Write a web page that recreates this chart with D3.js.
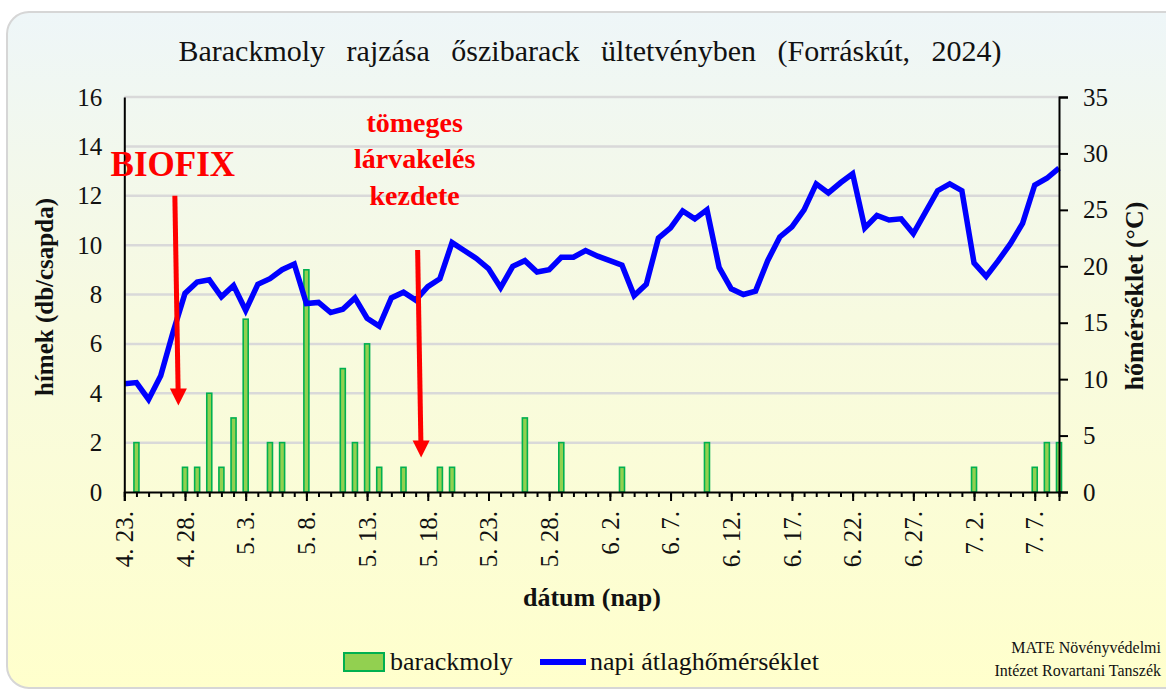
<!DOCTYPE html>
<html><head><meta charset="utf-8">
<script src="https://cdn.jsdelivr.net/npm/d3@7"></script>
<style>html,body{margin:0;padding:0;background:#fff;}svg{display:block;}</style>
</head><body>
<svg id="c" width="1166" height="693"></svg>
<script>
// ---------- data ----------
const days = ["4.23","4.24","4.25","4.26","4.27","4.28","4.29","4.30","5.1","5.2","5.3","5.4","5.5","5.6","5.7","5.8","5.9","5.10","5.11","5.12","5.13","5.14","5.15","5.16","5.17","5.18","5.19","5.20","5.21","5.22","5.23","5.24","5.25","5.26","5.27","5.28","5.29","5.30","5.31","6.1","6.2","6.3","6.4","6.5","6.6","6.7","6.8","6.9","6.10","6.11","6.12","6.13","6.14","6.15","6.16","6.17","6.18","6.19","6.20","6.21","6.22","6.23","6.24","6.25","6.26","6.27","6.28","6.29","6.30","7.1","7.2","7.3","7.4","7.5","7.6","7.7","7.8","7.9"];
const moths = [0,2,0,0,0,1,1,4,1,3,7,0,2,2,0,9,0,0,5,2,6,1,0,1,0,0,1,1,0,0,0,0,0,3,0,0,2,0,0,0,0,1,0,0,0,0,0,0,2,0,0,0,0,0,0,0,0,0,0,0,0,0,0,0,0,0,0,0,0,0,1,0,0,0,0,1,2,2];
const temps = [9.6,9.7,8.2,10.3,14.1,17.6,18.6,18.8,17.3,18.3,16.1,18.4,18.9,19.7,20.2,16.7,16.8,15.9,16.2,17.2,15.4,14.7,17.2,17.7,17.0,18.2,18.9,22.1,21.4,20.7,19.8,18.1,20.0,20.5,19.5,19.7,20.8,20.8,21.4,20.9,20.5,20.1,17.4,18.4,22.5,23.4,24.9,24.2,25.0,19.9,18.0,17.5,17.8,20.5,22.6,23.5,25.0,27.3,26.5,27.4,28.2,23.4,24.5,24.1,24.2,22.9,24.8,26.7,27.3,26.7,20.3,19.1,20.5,22.0,23.8,27.2,27.8,28.7];
const tickDays = ["4.23","4.28","5.3","5.8","5.13","5.18","5.23","5.28","6.2","6.7","6.12","6.17","6.22","6.27","7.2","7.7"];
const leftTicks = [0,2,4,6,8,10,12,14,16];
const rightTicks = [0,5,10,15,20,25,30,35];
const title = "Barackmoly rajzása őszibarack ültetvényben (Forráskút, 2024)";
const arrows = [ {day:"4.27", from:12, to:3.5}, {day:"5.17", from:9.8, to:1.4} ];
const notes = [ {day:"4.27", y:12.8, lines:["BIOFIX"], big:true},
                {day:"5.17", y:14.6, lines:["tömeges","lárvakelés","kezdete"], big:false} ];

// ---------- layout ----------
const svg = d3.select("#c");
const FONT = "'Liberation Serif','Times New Roman',serif";
const m = {l:124.3, r:1059, t:97, b:492};

const defs = svg.append("defs");
const g = defs.append("linearGradient").attr("id","bg").attr("x1",0).attr("y1",0).attr("x2",0).attr("y2",1);
g.append("stop").attr("offset","0%").attr("stop-color","#eef6f8");
g.append("stop").attr("offset","45%").attr("stop-color","#f7fae0");
g.append("stop").attr("offset","100%").attr("stop-color","#ffffcc");

svg.append("rect").attr("x",7).attr("y",12).attr("width",1200).attr("height",676).attr("rx",22)
  .attr("fill","url(#bg)").attr("stroke","#d6d6d6").attr("stroke-width",2);

const x = d3.scalePoint().domain(days).range([m.l, m.r]);
const yL = d3.scaleLinear().domain([0,16]).range([m.b, m.t]);
const yR = d3.scaleLinear().domain([0,35]).range([m.b, m.t]);

// gridlines
svg.append("g").selectAll("line").data(leftTicks.filter(d=>d>0)).join("line")
  .attr("x1",m.l).attr("x2",m.r).attr("y1",d=>yL(d)).attr("y2",d=>yL(d))
  .attr("stroke","#d9d9d9").attr("stroke-width",2.5);

// title
svg.append("text").attr("x",590).attr("y",61).attr("text-anchor","middle")
  .attr("font-family",FONT).attr("font-size",30).attr("word-spacing",14).attr("fill","#111").text(title);

// bars
const bw = 5;
svg.append("g").selectAll("rect").data(days.map((d,i)=>({d,v:moths[i]})).filter(o=>o.v>0)).join("rect")
  .attr("x",o=>x(o.d)-bw/2).attr("width",bw).attr("y",o=>yL(o.v)).attr("height",o=>yL(0)-yL(o.v))
  .attr("fill","#92d050").attr("stroke","#00b050").attr("stroke-width",1.6);

// temperature line
svg.append("path").datum(temps)
  .attr("d", d3.line().x((v,i)=>x(days[i])).y(v=>yR(v)))
  .attr("fill","none").attr("stroke","#0000ff").attr("stroke-width",5.5).attr("stroke-linejoin","miter");

// axes
const axL = svg.append("g").attr("transform",`translate(${m.l},0)`)
  .call(d3.axisLeft(yL).tickValues(leftTicks).tickSize(0).tickPadding(22));
const axR = svg.append("g").attr("transform",`translate(${m.r},0)`)
  .call(d3.axisRight(yR).tickValues(rightTicks).tickSize(9).tickPadding(15));
const axB = svg.append("g").attr("transform",`translate(0,${m.b})`)
  .call(d3.axisBottom(x).tickValues(days).tickSize(5).tickFormat(""));
const axB2 = svg.append("g").attr("transform",`translate(0,${m.b})`)
  .call(d3.axisBottom(x).tickValues(tickDays).tickSize(9).tickPadding(10)
     .tickFormat(d=>{const p=d.split(".");return p[0]+". "+p[1]+".";}));
[axL,axR,axB,axB2].forEach(a=>{
  a.attr("font-family",FONT);
  a.selectAll(".domain").attr("stroke","#000").attr("stroke-width",2);
  a.selectAll(".tick line").attr("stroke","#000").attr("stroke-width",2);
  a.selectAll("text").attr("font-family",FONT).attr("font-size",25).attr("fill","#111");
});
axB.select(".domain").remove();
axB2.selectAll(".tick text").attr("transform","rotate(-90)").attr("text-anchor","end")
  .attr("x",-19).attr("y",0).attr("dy","0.33em");

// axis titles
svg.append("text").attr("transform","translate(53,297) rotate(-90)").attr("text-anchor","middle")
  .attr("font-family",FONT).attr("font-weight","bold").attr("font-size",25).attr("fill","#111").text("hímek (db/csapda)");
svg.append("text").attr("transform","translate(1143,296) rotate(-90)").attr("text-anchor","middle")
  .attr("font-family",FONT).attr("font-weight","bold").attr("font-size",26).attr("fill","#111").text("hőmérséklet (°C)");
svg.append("text").attr("x",592).attr("y",606).attr("text-anchor","middle")
  .attr("font-family",FONT).attr("font-weight","bold").attr("font-size",26).attr("fill","#111").text("dátum (nap)");

// annotations
arrows.forEach(a=>{
  const x0 = x(a.day)+2, x1 = x(a.day)+5.5;
  const yTip = yL(a.to), yTop = yL(a.from);
  svg.append("line").attr("x1",x0).attr("y1",yTop).attr("x2",x0+(x1-x0)*0.93).attr("y2",yTip-15)
    .attr("stroke","#ff0000").attr("stroke-width",5);
  svg.append("path").attr("d",`M${x1-8.5},${yTip-17} L${x1+8.5},${yTip-17} L${x1},${yTip} Z`).attr("fill","#ff0000");
});
notes.forEach(n=>{
  const t = svg.append("text").attr("x",x(n.day)+(n.big?0:-1)).attr("y",yL(n.y)).attr("text-anchor","middle")
    .attr("font-family",FONT).attr("font-weight","bold").attr("font-size",n.big?35:28).attr("fill","#ff0000");
  n.lines.forEach((l,i)=>t.append("tspan").attr("x",x(n.day)+(n.big?0:-1)).attr("dy",i?36.5:0).text(l));
});

// legend
const lg = svg.append("g");
lg.append("rect").attr("x",344).attr("y",653).attr("width",40).attr("height",18)
  .attr("fill","#92d050").attr("stroke","#00b050").attr("stroke-width",2);
lg.append("text").attr("x",390).attr("y",670).attr("font-family",FONT).attr("font-size",26).attr("fill","#111").text("barackmoly");
lg.append("line").attr("x1",540).attr("x2",586).attr("y1",662).attr("y2",662).attr("stroke","#0000ff").attr("stroke-width",6);
lg.append("text").attr("x",590).attr("y",670).attr("font-family",FONT).attr("font-size",26).attr("fill","#111").text("napi átlaghőmérséklet");

// credit
svg.append("text").attr("x",1161).attr("y",653).attr("text-anchor","end").attr("font-family",FONT)
  .attr("font-size",16).attr("fill","#111").text("MATE Növényvédelmi");
svg.append("text").attr("x",1161).attr("y",676).attr("text-anchor","end").attr("font-family",FONT)
  .attr("font-size",16).attr("fill","#111").text("Intézet Rovartani Tanszék");
</script>
</body></html>
